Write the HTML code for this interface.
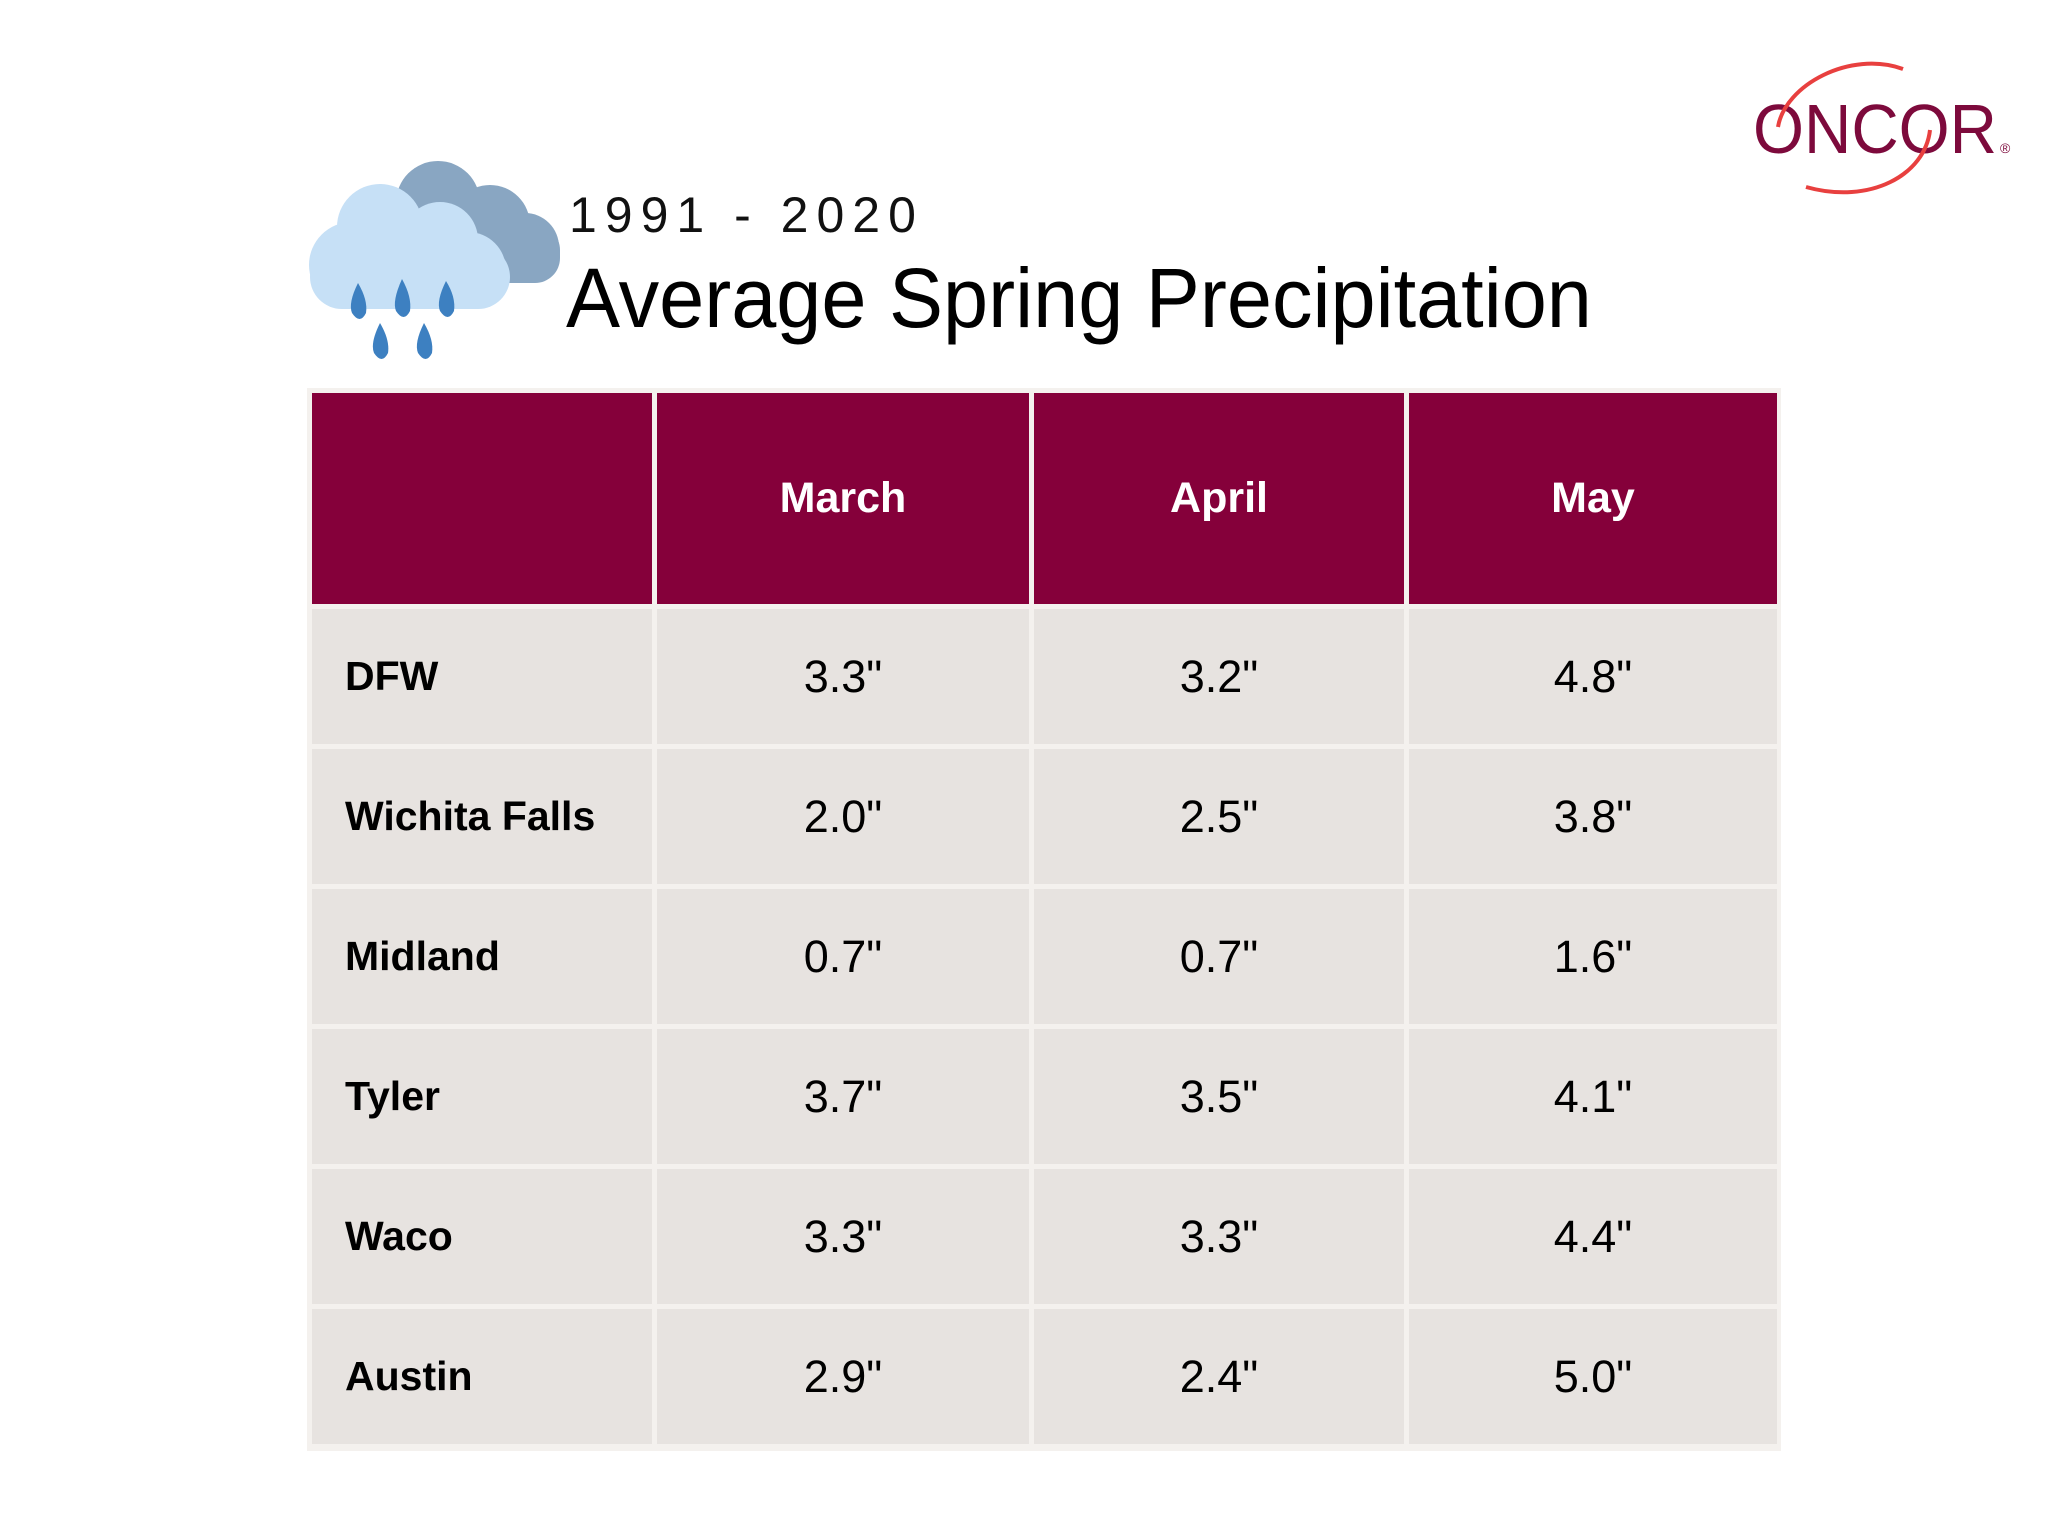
<!DOCTYPE html>
<html><head><style>
body{margin:0;width:2048px;height:1536px;background:#fff;position:relative;overflow:hidden;font-family:"Liberation Sans",sans-serif}
.abs{position:absolute}
.cell{position:absolute;display:flex;align-items:center;justify-content:center;box-sizing:border-box}
.h{background:#85003a;color:#fff;font-weight:bold;font-size:43px}
.b{background:#e7e3e0;color:#000;font-size:45px}
.n{justify-content:flex-start;padding-left:33px;font-weight:bold;font-size:41px}
</style></head><body>
<svg class="abs" style="left:300px;top:155px" width="280" height="210" viewBox="0 0 280 210">
<g fill="#89a6c2"><circle cx="138" cy="48" r="42"/><circle cx="190" cy="70" r="40"/><circle cx="225" cy="92" r="34"/><rect x="120" y="70" width="140" height="58" rx="25"/></g>
<g fill="#c6e0f6"><circle cx="80" cy="72" r="43"/><circle cx="140" cy="85" r="38"/><circle cx="52" cy="110" r="43"/><circle cx="168" cy="115" r="38"/><rect x="10" y="90" width="200" height="64" rx="32"/></g>
<g fill="#3d80c1"><path d="M58 128 Q48 148 52 158 Q60 170 66 158 Q68 145 58 128Z"/><path d="M102 124 Q92 146 96 156 Q104 168 110 156 Q112 142 102 124Z"/><path d="M146 126 Q136 146 140 156 Q148 168 154 156 Q156 142 146 126Z"/><path d="M80 168 Q70 188 74 198 Q82 210 88 198 Q90 185 80 168Z"/><path d="M124 168 Q114 188 118 198 Q126 210 132 198 Q134 185 124 168Z"/></g>
</svg>
<div class="abs" style="left:569px;top:186px;font-size:50px;letter-spacing:8px;color:#111">1991 - 2020</div>
<div class="abs" style="left:566px;top:250px;font-size:84px;color:#000;transform:scaleX(0.965);transform-origin:left top;white-space:nowrap">Average Spring Precipitation</div>
<svg class="abs" style="left:1740px;top:45px" width="290" height="170" viewBox="0 0 290 170">
<text x="13" y="108" font-family="Liberation Sans,sans-serif" font-size="70" fill="#7d0a3c" textLength="244" lengthAdjust="spacingAndGlyphs">ONCOR</text>
<path d="M38 82 C45 40 110 5 163 24" fill="none" stroke="#e8403f" stroke-width="4"/>
<path d="M190 85 C185 130 130 160 66 142" fill="none" stroke="#e8403f" stroke-width="4"/>
<text x="260" y="108" font-size="14" fill="#7d0a3c" font-family="Liberation Sans,sans-serif">®</text>
</svg>
<div class="abs" style="left:307px;top:388px;width:1474px;height:1063px;background:#f4f1ee"></div>
<div class="cell h" style="left:312px;top:393px;width:340px;height:211px"></div>
<div class="cell h" style="left:657px;top:393px;width:372px;height:211px">March</div>
<div class="cell h" style="left:1034px;top:393px;width:370px;height:211px">April</div>
<div class="cell h" style="left:1409px;top:393px;width:368px;height:211px">May</div>
<div id="rows"></div>
<script>
var d=[["DFW","3.3\"","3.2\"","4.8\""],["Wichita Falls","2.0\"","2.5\"","3.8\""],["Midland","0.7\"","0.7\"","1.6\""],["Tyler","3.7\"","3.5\"","4.1\""],["Waco","3.3\"","3.3\"","4.4\""],["Austin","2.9\"","2.4\"","5.0\""]];
var xs=[[312,340],[657,372],[1034,370],[1409,368]],h='';
d.forEach(function(r,i){var y=609+i*140;r.forEach(function(t,j){h+='<div class="cell b'+(j==0?' n':'')+'" style="left:'+xs[j][0]+'px;top:'+y+'px;width:'+xs[j][1]+'px;height:135px">'+t+'</div>';});});
document.getElementById('rows').outerHTML=h;
</script>
</body></html>
